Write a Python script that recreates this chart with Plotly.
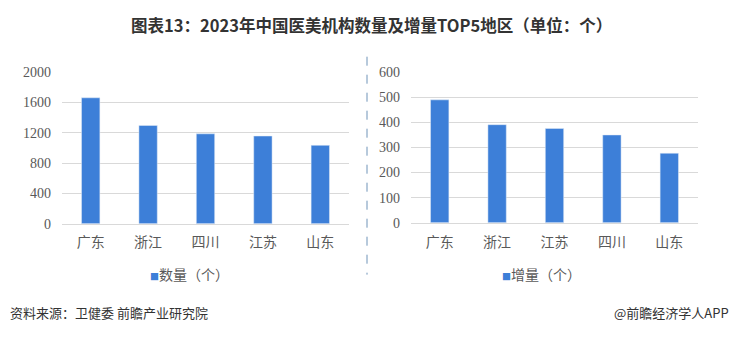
import plotly.graph_objects as go

# Data
cats_count = ["广东", "浙江", "四川", "江苏", "山东"]
vals_count = [1663, 1297, 1187, 1158, 1035]
cats_incr = ["广东", "浙江", "江苏", "四川", "山东"]
vals_incr = [490, 391, 376, 350, 277]
yticks_left = [0, 400, 800, 1200, 1600, 2000]
yticks_right = [0, 100, 200, 300, 400, 500, 600]

title_text = "图表13：2023年中国医美机构数量及增量TOP5地区（单位：个）"
legend_left = "数量（个）"
legend_right = "增量（个）"
source_text = "资料来源：卫健委 前瞻产业研究院"
brand_text = "@前瞻经济学人APP"

BAR = "#3d7fd8"
W, H = 733, 339

fig = go.Figure()
fig.add_trace(go.Bar(x=cats_count, y=vals_count, marker_color=BAR, xaxis="x", yaxis="y",
                     showlegend=False, name=legend_left))
fig.add_trace(go.Bar(x=cats_incr, y=vals_incr, marker_color=BAR, xaxis="x2", yaxis="y2",
                     showlegend=False, name=legend_right))

def px_x(v):
    return v / W

def px_y(v):
    return 1 - v / H

cat_font = dict(family="Noto Sans CJK SC", size=14, color="#595959")
num_font = dict(family="Liberation Serif, serif", size=14, color="#595959")

fig.update_layout(
    width=W, height=H,
    margin=dict(l=0, r=0, t=0, b=0),
    paper_bgcolor="white", plot_bgcolor="white",
    bargap=0.68,
    xaxis=dict(domain=[px_x(62), px_x(349)], anchor="y", tickfont=cat_font,
               showline=True, linecolor="#d9d9d9", ticks="", ticklabelstandoff=6),
    yaxis=dict(domain=[px_y(226.7), px_y(68.3)], anchor="x", range=[0, 2000],
               tickvals=yticks_left, tickfont=num_font, gridcolor="#d9d9d9",
               zeroline=False, ticklabelstandoff=10),
    xaxis2=dict(domain=[px_x(411), px_x(698)], anchor="y2", tickfont=cat_font,
                showline=True, linecolor="#d9d9d9", ticks="", ticklabelstandoff=6),
    yaxis2=dict(domain=[px_y(225.7), px_y(68.3)], anchor="x2", range=[0, 600],
                tickvals=yticks_right, tickfont=num_font, gridcolor="#d9d9d9",
                zeroline=False, ticklabelstandoff=10),
    font=dict(family="Noto Sans CJK SC"),
)

fig.add_annotation(text="<b>" + title_text + "</b>", x=px_x(371), y=px_y(19),
                   xref="paper", yref="paper", showarrow=False, xanchor="center", yanchor="middle",
                   font=dict(family="Noto Sans CJK SC", size=16.5, color="#333333"))

fig.add_annotation(text="<span style='color:%s;font-size:9px'>■</span>%s" % (BAR, legend_left),
                   x=px_x(189), y=px_y(279), xref="paper", yref="paper", showarrow=False,
                   xanchor="center", yanchor="middle",
                   font=dict(family="Noto Sans CJK SC", size=14, color="#595959"))
fig.add_annotation(text="<span style='color:%s;font-size:9px'>■</span>%s" % (BAR, legend_right),
                   x=px_x(541), y=px_y(279), xref="paper", yref="paper", showarrow=False,
                   xanchor="center", yanchor="middle",
                   font=dict(family="Noto Sans CJK SC", size=14, color="#595959"))

fig.add_annotation(text=source_text, x=px_x(8), y=px_y(320), xref="paper", yref="paper",
                   showarrow=False, xanchor="left", yanchor="middle",
                   font=dict(family="Noto Sans CJK SC", size=13, color="#333333"))
fig.add_annotation(text=brand_text, x=px_x(731), y=px_y(320), xref="paper", yref="paper",
                   showarrow=False, xanchor="right", yanchor="middle",
                   font=dict(family="Noto Sans CJK SC", size=13, color="#333333"))

fig.add_shape(type="line", x0=px_x(367), x1=px_x(367), y0=px_y(52), y1=px_y(280),
              xref="paper", yref="paper", line=dict(color="#6f93b8", width=1, dash="dash"))

fig.write_html("out.html")
